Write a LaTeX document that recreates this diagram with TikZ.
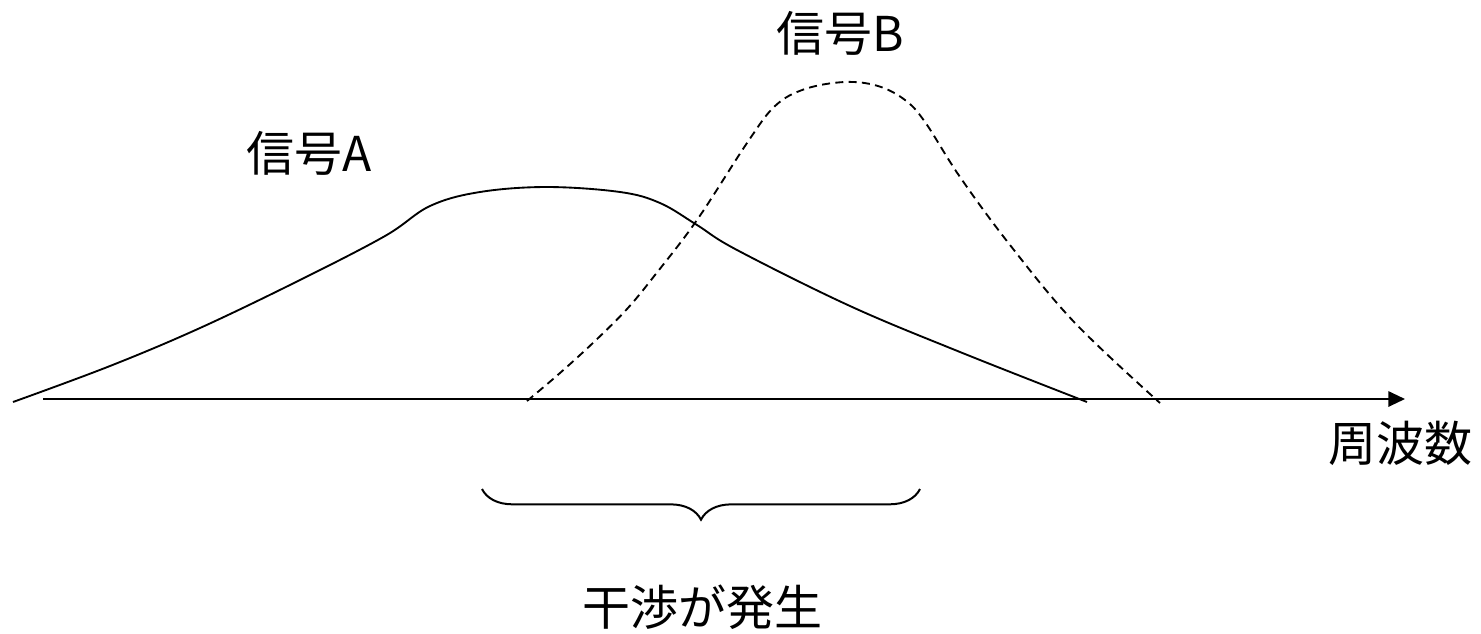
\documentclass[tikz,border=0pt]{standalone}
\usepackage{fontspec}
\setmainfont{Noto Sans CJK JP}
\usetikzlibrary{arrows.meta,decorations.pathreplacing}
\begin{document}
\begin{tikzpicture}[x=0.75pt,y=-0.75pt,
  lbl/.style={inner sep=0pt,font=\fontsize{36pt}{40pt}\selectfont},
  curveA/.style={line width=1.4pt,line join=round},
  curveB/.style={line width=1.4pt,dash pattern=on 6pt off 4pt,line join=round},
  axis/.style={line width=1.5pt,-{Triangle[length=12.5pt,width=11.5pt]}},
  bracestyle/.style={line width=1.5pt,decorate,decoration={brace,mirror,amplitude=23pt}}]
\useasboundingbox (0,0) rectangle (1481,633);
% axis
\coordinate (ax0) at (43,399);
\coordinate (ax1) at (1405,399);
\draw[axis] (ax0) -- (ax1);
% signal A
\draw[curveA] plot[smooth,tension=0.6] coordinates {
  (13,402) (110,366) (200,328) (300,280) (385,236) (430,206) (480,192)
  (547,187) (620,192) (660,203) (697,225) (737,250) (850,306) (960,352)
  (1087,402)};
% signal B
\draw[curveB] plot[smooth,tension=0.6] coordinates {
  (527,401) (560,373) (595,341) (627,309) (655,275) (697,220) (747,143)
  (775,106) (805,89) (845,82) (878,86) (905,100) (925,122) (960,177)
  (1010,245) (1075,323) (1160,403)};
% brace
\coordinate (br0) at (482,489);
\coordinate (br1) at (920,489);
\draw[bracestyle] (br0) -- (br1);
% labels
\node[lbl] (la) at (309,153) {信号A};
\node[lbl] (lb) at (840,33) {信号B};
\node[lbl] (lf) at (1400,443) {周波数};
\node[lbl] (li) at (702,607) {干渉が発生};
\end{tikzpicture}
\end{document}
